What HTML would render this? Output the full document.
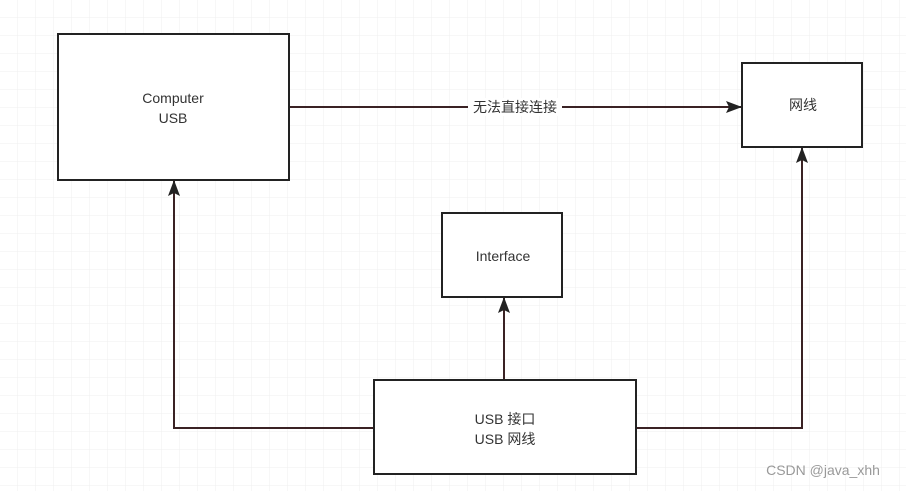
<!DOCTYPE html>
<html><head><meta charset="utf-8"><style>
body{margin:0;background:#fff;}
svg{display:block;font-family:"Liberation Sans","Noto Sans CJK SC",sans-serif;}
</style></head><body>
<svg width="906" height="491" xmlns="http://www.w3.org/2000/svg">
<defs>
<pattern id="g" width="18" height="18" patternUnits="userSpaceOnUse">
<path d="M18 0V18M0 18H18" stroke="#efefef" stroke-width="1" fill="none"/>
</pattern>
<marker id="a" markerWidth="16" markerHeight="12" refX="15" refY="6" orient="auto" markerUnits="userSpaceOnUse">
<path d="M0,0 L16,6 L0,12 L3,6z" fill="#222"/>
</marker>
</defs>
<rect width="906" height="491" fill="url(#g)"/>
<g stroke="#3a2224" stroke-width="2" fill="none">
<line x1="289" y1="107" x2="741" y2="107" marker-end="url(#a)"/>
<polyline points="374,428 174,428 174,181" marker-end="url(#a)"/>
<line x1="504" y1="380" x2="504" y2="298" marker-end="url(#a)"/>
<polyline points="636,428 802,428 802,148" marker-end="url(#a)"/>
</g>
<g stroke="#222" stroke-width="2" fill="#fff">
<rect x="58" y="34" width="231" height="146"/>
<rect x="742" y="63" width="120" height="84"/>
<rect x="442" y="213" width="120" height="84"/>
<rect x="374" y="380" width="262" height="94"/>
</g>
<rect x="468" y="98" width="94" height="18" fill="#fff"/>
<g font-size="14" fill="#333" text-anchor="middle">
<text x="173" y="103">Computer</text>
<text x="173" y="123">USB</text>
<text x="803" y="110">网线</text>
<text x="503" y="261">Interface</text>
<text x="505" y="424">USB 接口</text>
<text x="505" y="444">USB  网线</text>
<text x="515" y="112" font-size="14">无法直接连接</text>
</g>
<text x="823" y="475" font-size="14" fill="#999" text-anchor="middle">CSDN @java_xhh</text>
</svg>
</body></html>
